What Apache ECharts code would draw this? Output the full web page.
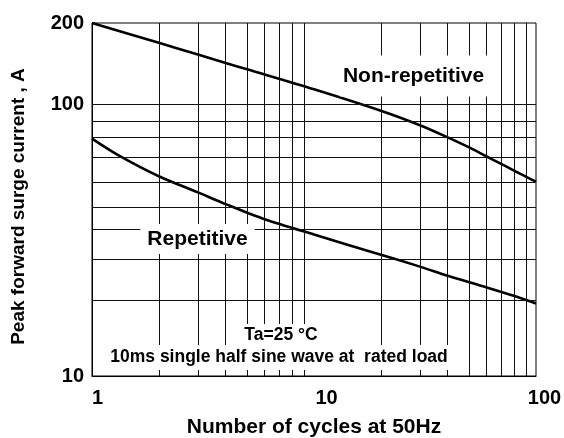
<!DOCTYPE html>
<html><head><meta charset="utf-8">
<script src="https://cdn.jsdelivr.net/npm/echarts@6.0.0/dist/echarts.min.js"></script>
<style>html,body{margin:0;padding:0;background:#fff}#c{width:564px;height:438px}</style>
</head><body><div id="c"></div>
<script>
const nonRepCycles = [1, 2, 3, 4, 5, 10, 20, 30, 40, 50, 60, 70, 80, 90, 100];
const nonRepCurrent = [200, 169, 153, 142.5, 135, 114, 95, 84, 75.8, 69.6, 64.4, 60.4, 57, 54.3, 52];
const repCycles = [1, 1.3, 2, 3, 4, 6, 10, 20, 30, 40, 60, 80, 100];
const repCurrent = [75, 65.5, 54.5, 47.5, 43, 37.8, 33.2, 28, 25.3, 23.4, 21.2, 19.7, 18.5];
const xGridLines = [2, 3, 4, 5, 6, 7, 8, 9, 20, 30, 40, 50, 60, 70, 80, 90];
const yGridLines = [100, 86.9, 75.6, 64.2, 51.7, 42, 34.7, 27, 19];
const xTickLabels = ['1', '10', '100'];
const yTickLabels = ['10', '100', '200'];

const FF = '"Liberation Sans", Arial, Helvetica, sans-serif';
const chart = echarts.init(document.getElementById('c'), null, {renderer: 'canvas'});
const zip = (a, b) => a.map((v, i) => [v, b[i]]);

chart.setOption({
  animation: false,
  backgroundColor: '#fff',
  grid: {left: 92, right: 28, top: 23, bottom: 62, show: true, borderColor: '#000', borderWidth: 1, containLabel: false, outerBoundsMode: 'none'},
  xAxis: {
    type: 'log', logBase: 10, min: 1, max: 100,
    name: 'Number of cycles at 50Hz', nameLocation: 'middle', nameGap: 41,
    nameTextStyle: {fontFamily: FF, fontWeight: 'bold', fontSize: 21, color: '#000'},
    axisLine: {show: true, lineStyle: {color: '#000', width: 1}},
    axisTick: {show: false}, splitLine: {show: false}, minorSplitLine: {show: false},
    axisLabel: {
      showMinLabel: true, showMaxLabel: true, margin: 12,
      formatter: v => {
        const s = String(Math.round(v));
        const i = xTickLabels.indexOf(s);
        return i >= 0 ? '{t' + i + '|' + s + '}' : '';
      },
      rich: {
        t0: {fontFamily: FF, fontWeight: 'bold', fontSize: 20, color: '#000', padding: [0, 0, 0, 11]},
        t1: {fontFamily: FF, fontWeight: 'bold', fontSize: 20, color: '#000', padding: [0, 0, 0, 25]},
        t2: {fontFamily: FF, fontWeight: 'bold', fontSize: 20, color: '#000', padding: [0, 0, 0, 17]}
      }
    }
  },
  yAxis: {
    type: 'log', logBase: 10, min: 10, max: 200,
    name: 'Peak forward surge current , A', nameLocation: 'middle', nameGap: 64, nameRotate: 90,
    nameTextStyle: {fontFamily: FF, fontWeight: 'bold', fontSize: 19, color: '#000', padding: [0, 14, 0, 0]},
    axisLine: {show: true, lineStyle: {color: '#000', width: 1}},
    axisTick: {show: false}, splitLine: {show: false},
    axisLabel: {
      showMinLabel: true, showMaxLabel: true, margin: 8,
      fontFamily: FF, fontWeight: 'bold', fontSize: 20, color: '#000',
      padding: [0, 0, 10, 0],
      formatter: v => {
        const s = String(Math.round(v));
        return yTickLabels.indexOf(s) >= 0 ? s : '';
      }
    }
  },
  series: [
    {
      type: 'line', data: [[1, 10]], showSymbol: false, symbol: 'none', lineStyle: {opacity: 0}, z: 1, silent: true,
      markLine: {
        symbol: 'none', silent: true, label: {show: false},
        lineStyle: {color: '#111', width: 1, type: 'solid'},
        data: xGridLines.map(v => ({xAxis: v})).concat(yGridLines.map(v => ({yAxis: v})))
      }
    },
    {
      name: 'Non-repetitive', type: 'line', data: zip(nonRepCycles, nonRepCurrent),
      smooth: 0.3, symbol: 'none', z: 3, lineStyle: {color: '#000', width: 2.6}
    },
    {
      name: 'Repetitive', type: 'line', data: zip(repCycles, repCurrent),
      smooth: 0.3, symbol: 'none', z: 3, lineStyle: {color: '#000', width: 2.6}
    }
  ],
  graphic: [
    {type: 'text', x: 413.5, y: 76, z: 100, style: {text: 'Non-repetitive', font: 'bold 21px ' + FF, fill: '#000', align: 'center', verticalAlign: 'middle', backgroundColor: '#fff', padding: [8, 3, 12, 3]}},
    {type: 'text', x: 197.5, y: 239, z: 100, style: {text: 'Repetitive', font: 'bold 21px ' + FF, fill: '#000', align: 'center', verticalAlign: 'middle', backgroundColor: '#fff', padding: [4, 7, 5, 7]}},
    {type: 'text', x: 281, y: 335, z: 100, style: {text: 'Ta=25 °C', font: 'bold 17.5px ' + FF, fill: '#000', align: 'center', verticalAlign: 'middle', backgroundColor: '#fff', padding: [2, 4, 2, 4]}},
    {type: 'text', x: 279, y: 357.5, z: 100, style: {text: '10ms single half sine wave at  rated load', font: 'bold 17.5px ' + FF, fill: '#000', align: 'center', verticalAlign: 'middle', backgroundColor: '#fff', padding: [3, 4, 4, 4]}}
  ]
});
</script>
</body></html>
